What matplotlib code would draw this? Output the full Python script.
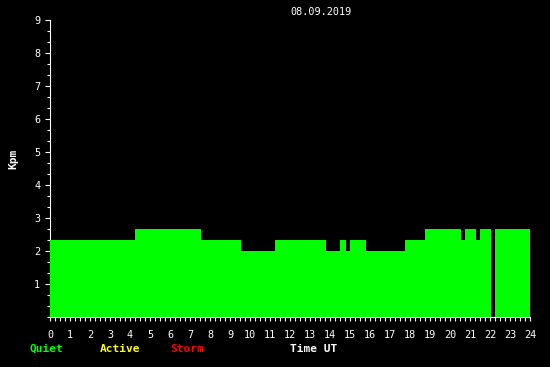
import matplotlib
matplotlib.use("Agg")
import matplotlib.pyplot as plt
from matplotlib.ticker import MultipleLocator

# Kpm step values, hours UT
edges = [0, 4.25, 7.55, 9.55, 11.25, 13.8, 14.5, 14.8, 15.0, 15.8, 17.75,
         18.75, 20.55, 20.75, 21.3, 21.5, 22.05, 22.25, 24]
kpm = [2.33, 2.67, 2.33, 2.0, 2.33, 2.0, 2.33, 2.0, 2.33, 2.0, 2.33,
       2.67, 2.33, 2.67, 2.33, 2.67, 0, 2.67]
hour_ticks = list(range(0, 25))
kp_ticks = list(range(1, 10))

plt.rcParams['font.family'] = 'DejaVu Sans Mono'

fig = plt.figure(figsize=(5.5, 3.67), dpi=100, facecolor='black')
ax = fig.add_axes([50 / 550, 1 - 317.3 / 367, 480 / 550, 297 / 367])
ax.set_facecolor('black')

ax.stairs(kpm, edges, fill=True, color='#00ff00', zorder=3, antialiased=False)

ax.set_xlim(0, 24)
ax.set_ylim(0, 9)
ax.set_xticks(hour_ticks)
ax.set_yticks(kp_ticks)
ax.xaxis.set_minor_locator(MultipleLocator(0.25))
ax.yaxis.set_minor_locator(MultipleLocator(1 / 3))

for s in ['top', 'right']:
    ax.spines[s].set_visible(False)
for s in ['left', 'bottom']:
    ax.spines[s].set_color('white')
    ax.spines[s].set_linewidth(0.8)

ax.tick_params(axis='both', which='both', colors='white', width=0.8,
               labelsize=7.3)
ax.tick_params(axis='x', which='major', length=3, pad=6)
ax.tick_params(axis='x', which='minor', length=3)
ax.tick_params(axis='y', which='major', length=3.6, pad=3.4)
ax.tick_params(axis='y', which='minor', length=2.2)

fig.text(290 / 550, 1 - 12 / 367, '08.09.2019', color='white', fontsize=7.3,
         ha='left', va='center')
fig.text(13 / 550, 1 - 159 / 367, 'Kpm', color='white', fontsize=8,
         fontweight='bold', rotation=90, ha='center', va='center')

legend_items = [('Quiet', '#00ff00', 30), ('Active', '#ffff00', 100),
                ('Storm', '#ff0000', 170), ('Time UT', 'white', 290)]
for label, col, xpix in legend_items:
    fig.text(xpix / 550, 1 - 349 / 367, label, color=col, fontsize=8,
             fontweight='bold', ha='left', va='center')

fig.savefig('out.png', dpi=100, facecolor='black')
